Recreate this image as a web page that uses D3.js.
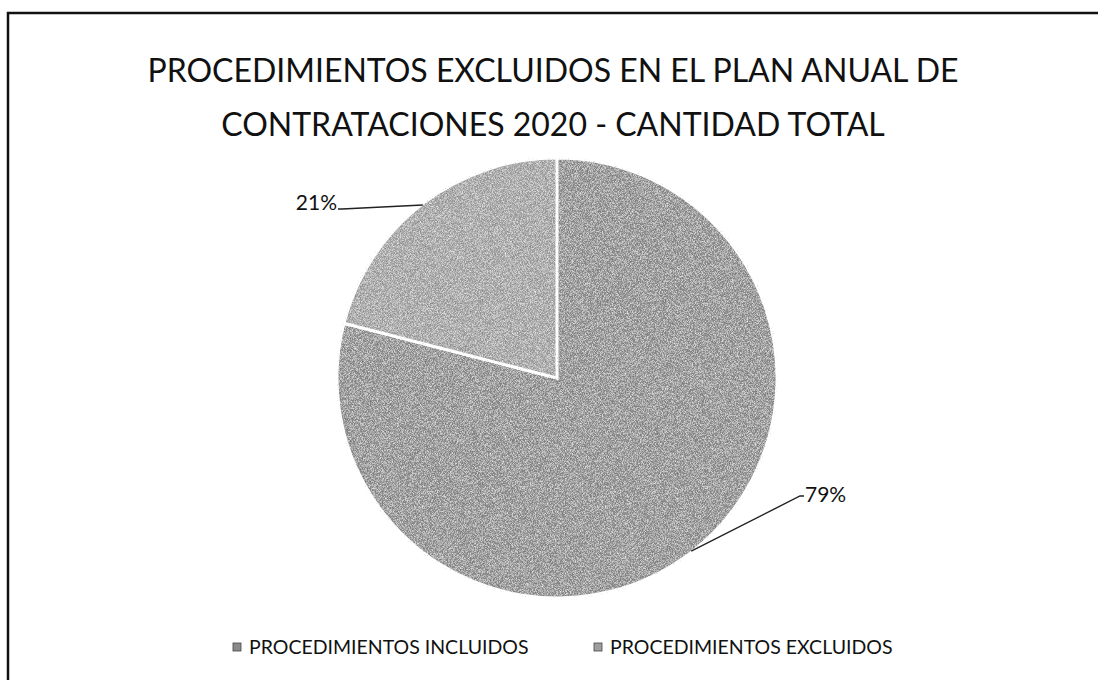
<!DOCTYPE html>
<html>
<head>
<meta charset="utf-8">
<script src="https://cdn.jsdelivr.net/npm/d3@7"></script>
<style>
  html, body { margin: 0; background: #fff; overflow: hidden; }
  svg { display: block; }
  text { font-family: Lato, "Open Sans", sans-serif; fill: #111; }
</style>
</head>
<body>
<div class="chart"></div>
<script>
// data
var categories = ["PROCEDIMIENTOS INCLUIDOS", "PROCEDIMIENTOS EXCLUIDOS"];
var values = [79, 21];
var sliceLabels = ["79%", "21%"];
var titleLines = ["PROCEDIMIENTOS EXCLUIDOS EN EL PLAN ANUAL DE", "CONTRATACIONES 2020 - CANTIDAD TOTAL"];
var colors = ["#8a8a8a", "#9e9e9e"];

var svgWidth = 1098;
var svgHeight = 680;

var svg = d3.select(".chart")
  .append("svg")
  .attr("width", svgWidth)
  .attr("height", svgHeight);

// scan-like grain on the slices
var defs = svg.append("defs");
var filt = defs.append("filter").attr("id", "grain")
  .attr("x", 0).attr("y", 0).attr("width", 1).attr("height", 1);
filt.append("feTurbulence")
  .attr("type", "fractalNoise")
  .attr("baseFrequency", 1.4)
  .attr("numOctaves", 1)
  .attr("seed", 3)
  .attr("result", "noise");
filt.append("feColorMatrix")
  .attr("in", "noise")
  .attr("type", "matrix")
  .attr("values", "0 0 0 0 1  0 0 0 0 1  0 0 0 0 1  1.8 0 0 0 -0.75")
  .attr("result", "light");
filt.append("feColorMatrix")
  .attr("in", "noise")
  .attr("type", "matrix")
  .attr("values", "0 0 0 0 0  0 0 0 0 0  0 0 0 0 0  -1.8 0 0 0 0.7")
  .attr("result", "dark");
filt.append("feComposite").attr("in", "light").attr("in2", "SourceGraphic").attr("operator", "in").attr("result", "lightIn");
filt.append("feComposite").attr("in", "dark").attr("in2", "SourceGraphic").attr("operator", "in").attr("result", "darkIn");
var mrg = filt.append("feMerge");
mrg.append("feMergeNode").attr("in", "SourceGraphic");
mrg.append("feMergeNode").attr("in", "lightIn");
mrg.append("feMergeNode").attr("in", "darkIn");

// frame (right and bottom sides fall outside the scan)
svg.append("rect")
  .attr("x", 8)
  .attr("y", 13)
  .attr("width", 1200)
  .attr("height", 800)
  .attr("fill", "none")
  .attr("stroke", "#111")
  .attr("stroke-width", 2.5);

// title
svg.append("g").selectAll("text")
  .data(titleLines)
  .enter()
  .append("text")
  .attr("x", 553)
  .attr("y", (d, i) => 82 + i * 54)
  .attr("text-anchor", "middle")
  .style("font-size", "32px")
  .text(d => d);

// pie
var cx = 557, cy = 378, radius = 220;
var pie = d3.pie().sort(null).startAngle(0).endAngle(2 * Math.PI);
var arcs = pie(values);
var arc = d3.arc().innerRadius(0).outerRadius(radius);

var pieGroup = svg.append("g")
  .attr("transform", `translate(${cx}, ${cy})`);

pieGroup.selectAll("path")
  .data(arcs)
  .enter()
  .append("path")
  .attr("d", arc)
  .attr("fill", (d, i) => colors[i])
  .attr("stroke", "#fff")
  .attr("stroke-width", 3)
  .attr("filter", "url(#grain)");

// leader lines + labels (line starts at the middle of each slice's rim)
var rim = d3.arc().innerRadius(radius - 1).outerRadius(radius - 1);
var labelEnd = [[800, 496], [342, 209]];

arcs.forEach(function(d, i) {
  var c = rim.centroid(d);
  var p0 = [cx + c[0], cy + c[1]];
  var p1 = labelEnd[i];
  var dir = i === 0 ? 1 : -1;
  svg.append("polyline")
    .attr("points", [p0, p1, [p1[0] + dir * 4, p1[1]]].map(p => p.join(",")).join(" "))
    .attr("fill", "none")
    .attr("stroke", "#222")
    .attr("stroke-width", 1.4);
  svg.append("text")
    .attr("x", p1[0] + dir * 5)
    .attr("y", i === 0 ? p1[1] + 6 : p1[1] + 1)
    .attr("text-anchor", i === 0 ? "start" : "end")
    .style("font-size", "21px")
    .text(sliceLabels[i]);
});

// legend
var legendX = [237, 598];
var legend = svg.append("g").selectAll("g")
  .data(categories)
  .enter()
  .append("g")
  .attr("transform", (d, i) => `translate(${legendX[i]}, 647)`);

legend.append("rect")
  .attr("x", -4).attr("y", -4)
  .attr("width", 8).attr("height", 8)
  .attr("fill", (d, i) => colors[i])
  .attr("stroke", "#444")
  .attr("stroke-width", 0.8);

legend.append("text")
  .attr("x", 12)
  .attr("y", 7)
  .style("font-size", "19.5px")
  .text(d => d);
</script>
</body>
</html>
